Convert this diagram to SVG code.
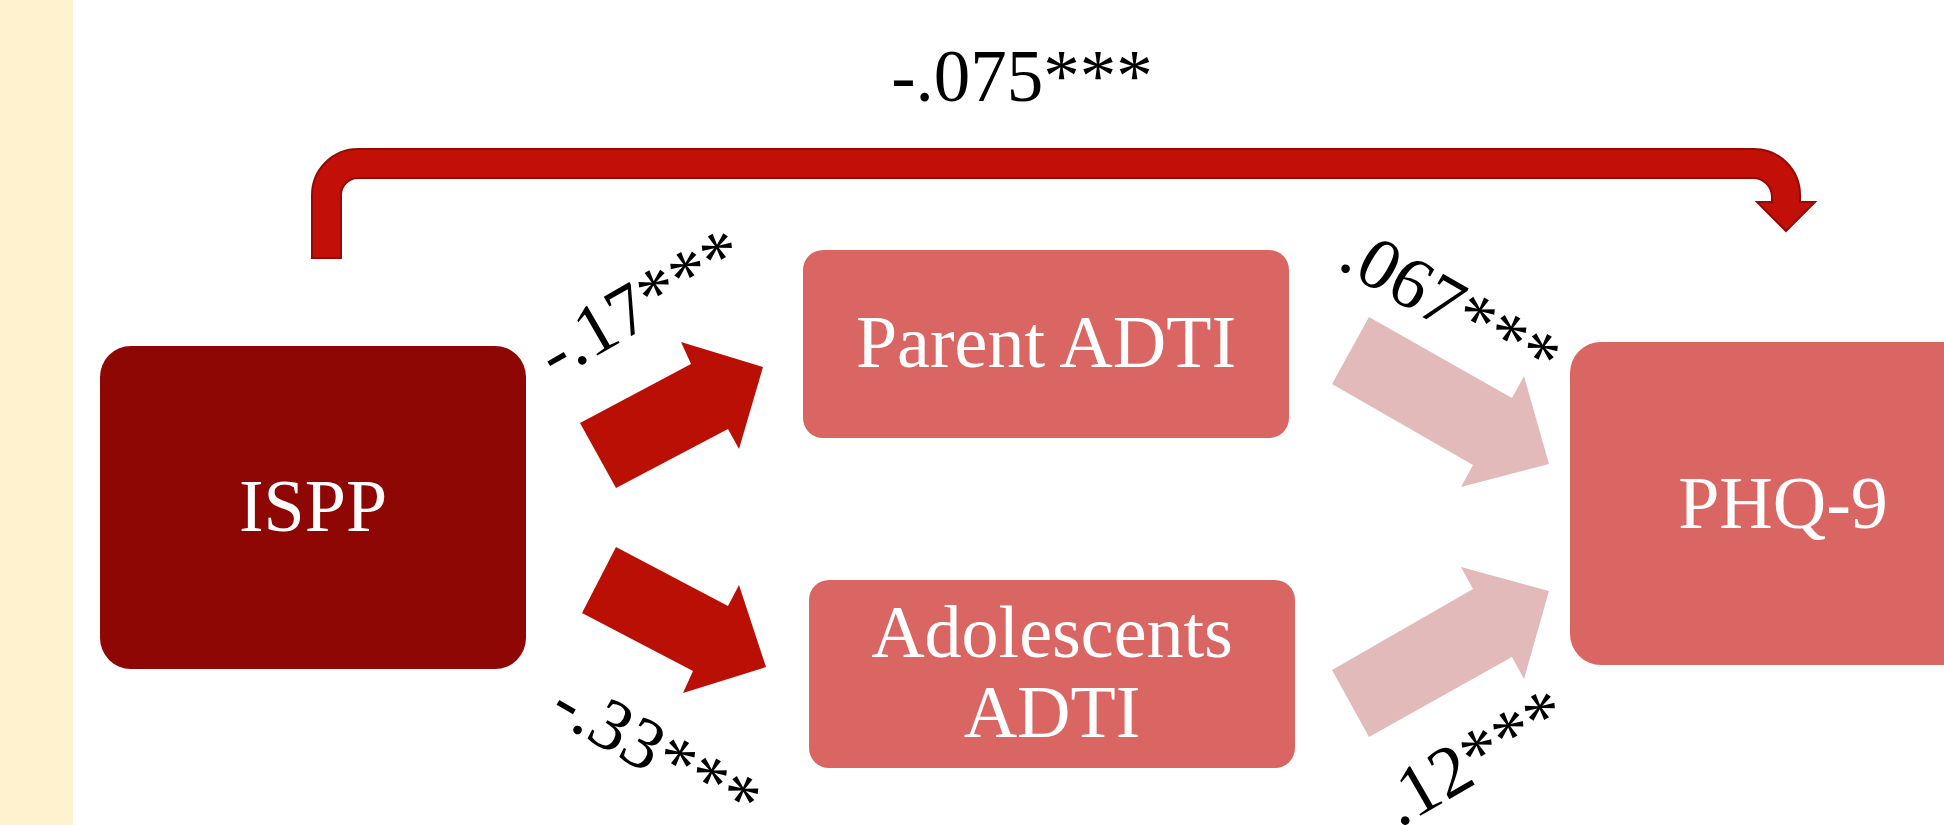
<svg xmlns="http://www.w3.org/2000/svg" width="1944" height="825" viewBox="0 0 1944 825">
<style>
.node-text{font-family:"Liberation Serif","Times New Roman",serif;font-size:74px;fill:#ffffff;text-anchor:middle}
.lbl{font-family:"Liberation Serif","Times New Roman",serif;font-size:73px;fill:#000000}
.red-arrow{fill:#B90F05}
.pink-arrow{fill:#E3BABA}
.mid{fill:#DA6664}
</style>
<rect x="0" y="0" width="1944" height="825" fill="#ffffff"/>
<rect x="0" y="0" width="73" height="825" fill="#FFF2CE"/>

<g id="connectors">
  <path d="M312,258 L312,195 A46,46 0 0 1 358,149 L1754,149 A46,46 0 0 1 1800,195 L1800,202 L1815,202 L1786,231 L1757,202 L1772,202 L1772,197 A19,19 0 0 0 1753,178 L358,178 A17,17 0 0 0 341,195 L341,258 Z" fill="#C20F08" stroke="#960A06" stroke-width="2" stroke-linejoin="miter"/>
  <polygon class="red-arrow" points="616,488 580,423 691,364 681,342 763,367 739,449 728,429"/>
  <polygon class="red-arrow" points="616,547 582,613 693,671 683,693 766,667 739,585 728,606"/>
  <polygon class="pink-arrow" points="1369,317 1332,384 1473,465 1461,487 1549,464 1524,376 1512,398"/>
  <polygon class="pink-arrow" points="1332,670 1369,737 1512,657 1524,679 1549,591 1461,567 1473,589"/>
  <text class="lbl" x="1022" y="101" text-anchor="middle" font-size="72">-.075***</text>
  <text class="lbl" x="555" y="380" transform="rotate(-30 555 380)">-.17***</text>
  <text class="lbl" x="547" y="716" transform="rotate(30 547 716)">-.33***</text>
  <text class="lbl" x="1336" y="267" transform="rotate(30 1336 267)">.067***</text>
  <text class="lbl" x="1399" y="828" transform="rotate(-30 1399 828)">.12***</text>
</g>

<g id="node-ispp">
  <rect x="100" y="346" width="426" height="323" rx="31" ry="31" fill="#8F0704"/>
  <text class="node-text" x="313" y="531">ISPP</text>
</g>
<g id="node-parent">
  <rect class="mid" x="803" y="250" width="486" height="188" rx="20" ry="20"/>
  <text class="node-text" x="1046" y="367">Parent ADTI</text>
</g>
<g id="node-adolescents">
  <rect class="mid" x="809" y="580" width="486" height="188" rx="20" ry="20"/>
  <text class="node-text" x="1052" y="657">Adolescents</text>
  <text class="node-text" x="1052" y="737">ADTI</text>
</g>
<g id="node-phq9">
  <rect class="mid" x="1570" y="342" width="426" height="323" rx="31" ry="31"/>
  <text class="node-text" x="1783" y="528">PHQ-9</text>
</g>
</svg>
